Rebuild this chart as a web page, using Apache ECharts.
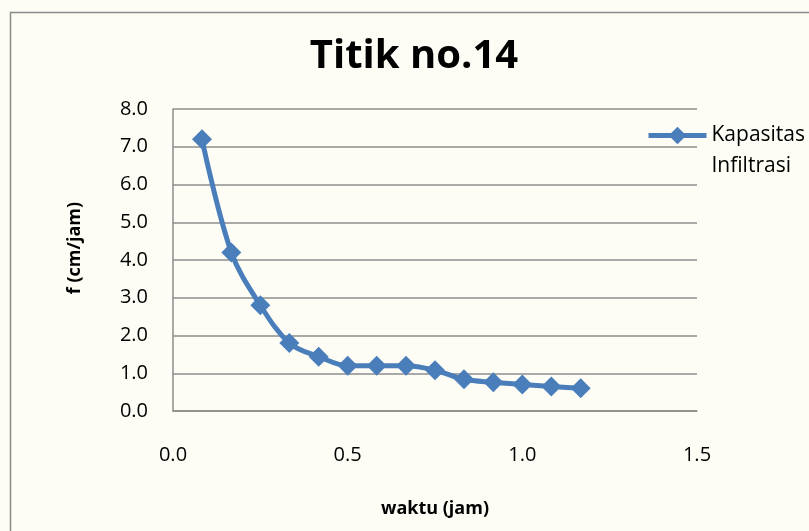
<!DOCTYPE html>
<html>
<head>
<meta charset="utf-8">
<script src="https://cdn.jsdelivr.net/npm/echarts@6/dist/echarts.min.js"></script>
<style>
  html, body { margin: 0; padding: 0; background: #fdfdf6; }
  #chart { width: 809px; height: 531px; }
</style>
</head>
<body>
<div id="chart"></div>
<script>
// Time since start of test (hours), 5-minute steps
const waktu = [0.083, 0.167, 0.25, 0.333, 0.417, 0.5, 0.583, 0.667, 0.75, 0.833, 0.917, 1.0, 1.083, 1.167];
// Infiltration capacity f (cm/jam)
const kapasitas = [7.2, 4.2, 2.8, 1.8, 1.44, 1.2, 1.2, 1.2, 1.08, 0.84, 0.76, 0.70, 0.65, 0.60];
const seriesName = 'Kapasitas\nInfiltrasi';

const font = '"Open Sans", "Liberation Sans", sans-serif';
const blue = '#4a7ebb';
const points = waktu.map((x, i) => [x, kapasitas[i]]);

const chart = echarts.init(document.getElementById('chart'));
chart.setOption({
  backgroundColor: '#fdfdf6',
  animation: false,
  title: {
    text: 'Titik no.14',
    left: 409, top: 32, textAlign: 'center',
    textStyle: { fontFamily: font, fontSize: 40, fontWeight: 'bold', color: '#000' }
  },
  legend: {
    left: 641, top: 84,
    itemWidth: 58, itemHeight: 22,
    itemGap: 0,
    lineStyle: { width: 5 },
    // a blank first line keeps "Kapasitas" level with the legend marker
    formatter: name => ' \n' + name,
    textStyle: { fontFamily: font, fontSize: 21, color: '#000', lineHeight: 31 },
    data: [{ name: seriesName }]
  },
  grid: { left: 173, right: 112, top: 109, bottom: 120 },
  xAxis: {
    type: 'value', min: 0, max: 1.5, interval: 0.5,
    name: 'waktu (jam)', nameLocation: 'middle', nameGap: 89,
    nameTextStyle: { fontFamily: font, fontSize: 18, fontWeight: 'bold', color: '#000' },
    axisLine: { show: true, lineStyle: { color: '#8c8c8c', width: 1.5 } },
    axisTick: { show: false },
    splitLine: { show: false },
    axisLabel: { margin: 34, fontFamily: font, fontSize: 20, color: '#000',
      formatter: v => v.toFixed(1) }
  },
  yAxis: {
    type: 'value', min: 0, max: 8, interval: 1,
    name: 'f (cm/jam)', nameLocation: 'middle', nameGap: 89, nameRotate: 90,
    nameTextStyle: { fontFamily: font, fontSize: 18, fontWeight: 'bold', color: '#000',
      padding: [0, 0, 0, 24] },
    axisLine: { show: true, lineStyle: { color: '#8c8c8c', width: 1.5 } },
    axisTick: { show: false },
    splitLine: { show: true, lineStyle: { color: '#8c8c8c', width: 1.5 } },
    axisLabel: { margin: 25, fontFamily: font, fontSize: 20, color: '#000',
      formatter: v => v.toFixed(1) }
  },
  graphic: [{
    type: 'rect', silent: true, z: -1,
    shape: { x: 10.5, y: 12.5, width: 820, height: 540 },
    style: { fill: 'none', stroke: '#8c8c8c', lineWidth: 1.5 }
  }],
  series: [{
    name: seriesName,
    type: 'line',
    data: points,
    smooth: 0.35,
    symbol: 'diamond',
    symbolSize: 20,
    lineStyle: { color: blue, width: 5 },
    itemStyle: { color: blue }
  }]
});
</script>
</body>
</html>
